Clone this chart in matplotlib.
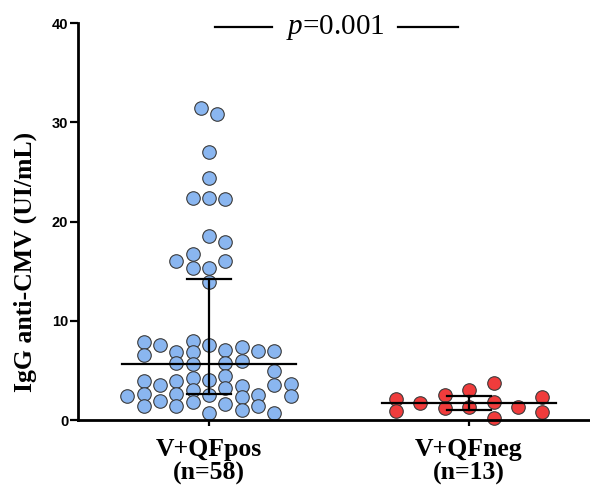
import numpy as np
import matplotlib
matplotlib.use('Agg')
import matplotlib.pyplot as plt
from matplotlib import rcParams

rcParams['font.family'] = 'sans-serif'
rcParams['font.sans-serif'] = ['Liberation Sans', 'DejaVu Sans']
rcParams['mathtext.fontset'] = 'custom'
rcParams['mathtext.rm'] = 'Liberation Serif'
rcParams['mathtext.it'] = 'Liberation Serif:italic'

# IgG anti-CMV per group (UI/mL)
groups = ['V+QFpos\n(n=58)', 'V+QFneg\n(n=13)']
pos_values = [31.4, 30.8, 27.0, 24.4, 22.4, 22.4, 22.3, 18.5, 17.9, 16.7,
              16.0, 16.0, 15.3, 15.3, 13.9,
              2.4,
              7.9, 6.6, 3.9, 2.6, 1.4,
              7.6, 3.5, 1.9,
              6.9, 5.7, 3.9, 2.6, 1.4,
              8.0, 6.9, 5.6, 4.2, 3.0, 1.8,
              7.6, 4.0, 2.5, 0.7,
              7.1, 5.7, 4.4, 3.2, 1.6,
              7.4, 5.9, 3.4, 2.3, 1.0,
              7.0, 2.5, 1.4,
              7.0, 4.9, 3.5, 0.7,
              3.6, 2.4]
neg_values = [2.1, 0.9, 1.7, 2.5, 1.2, 3.0, 1.3, 3.7, 1.8, 0.25, 1.3, 2.3, 0.8]
p_label = '=0.001'

# swarm column of each dot (layout only)
pos_cols = [-0.5, 0.5, 0, 0, -1, 0, 1, 0, 1, -1, -2, 1, -1, 0, 0,
            -5,
            -4, -4, -4, -4, -4,
            -3, -3, -3,
            -2, -2, -2, -2, -2,
            -1, -1, -1, -1, -1, -1,
            0, 0, 0, 0,
            1, 1, 1, 1, 1,
            2, 2, 2, 2, 2,
            3, 3, 3,
            4, 4, 4, 4,
            5, 5]
neg_cols = [-4.5, -4.5, -3, -1.5, -1.5, 0, 0, 1.5, 1.5, 1.5, 3, 4.5, 4.5]
col_step = 0.0627

fig = plt.figure(figsize=(5.9, 4.93), dpi=100)
ax = fig.add_axes([0.132, 0.148, 0.868, 0.805])

datasets = [(pos_values, pos_cols, '#8AB6F0'), (neg_values, neg_cols, '#F03C3C')]
for i, (vals, cols, color) in enumerate(datasets):
    vals = np.array(vals)
    x = i + np.array(cols) * col_step
    ax.scatter(x, vals, s=95, facecolor=color, edgecolor='#3a3a3a',
               linewidth=0.8, zorder=2, clip_on=False)
    # median with interquartile range
    q1, med, q3 = np.percentile(vals, [25, 50, 75], method='weibull')
    ax.plot([i - 0.334, i + 0.334], [med, med], color='black', lw=1.6, zorder=3)
    ax.plot([i, i], [q1, q3], color='black', lw=1.6, zorder=3)
    for q in (q1, q3):
        ax.plot([i - 0.083, i + 0.083], [q, q], color='black', lw=1.6, zorder=3)

ax.set_xlim(-0.504, 1.465)
ax.set_ylim(0, 40)
ax.set_yticks([0, 10, 20, 30, 40])
ax.set_xticks([0, 1])
ax.set_xticklabels(groups, fontfamily='Liberation Serif', fontweight='bold',
                   fontsize=18.5, linespacing=1.05)
for lab in ax.get_yticklabels():
    lab.set_fontweight('bold')
    lab.set_fontsize(10.5)

ax.spines['top'].set_visible(False)
ax.spines['right'].set_visible(False)
ax.spines['left'].set_linewidth(2)
ax.spines['bottom'].set_linewidth(2)
ax.tick_params(axis='y', length=6, width=1.6, pad=1)
ax.tick_params(axis='x', length=4, width=1.6, pad=9)

ax.set_ylabel('IgG anti-CMV (UI/mL)', fontfamily='Liberation Serif',
              fontweight='bold', fontsize=18.5)
ax.yaxis.set_label_coords(-0.08, 0.398)

# significance bracket
ax.plot([0.023, 0.242], [39.6, 39.6], color='black', lw=1.6, clip_on=False)
ax.plot([0.727, 0.958], [39.6, 39.6], color='black', lw=1.6, clip_on=False)
ax.text(0.485, 39.6, r'$\it{p}$' + p_label, ha='center', va='center',
        fontfamily='Liberation Serif', fontsize=21)

fig.savefig('out.png', dpi=100, facecolor='white')
